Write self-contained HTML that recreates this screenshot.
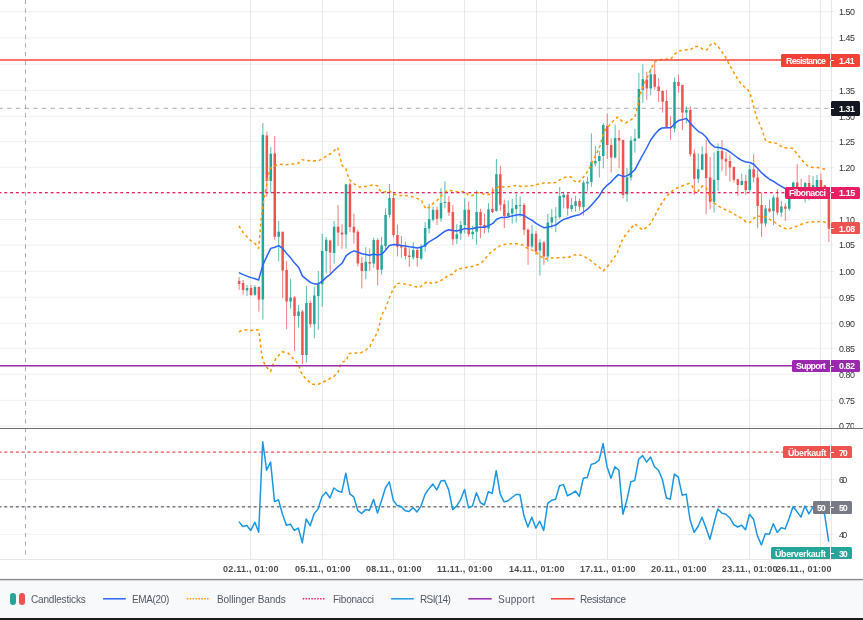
<!DOCTYPE html><html><head><meta charset="utf-8"><title>chart</title><style>
html,body{margin:0;padding:0;background:#fff}
body{width:863px;height:620px;position:relative;overflow:hidden;font-family:"Liberation Sans",sans-serif}
.t{position:absolute;white-space:nowrap;display:block;will-change:transform}
.ax{font-size:8.9px;color:#333;line-height:10px;height:10px}
.tl{font-size:9px;font-weight:bold;color:#4c4c4c;line-height:11px;height:11px}
.bx{position:absolute}
.bt{font-size:8.9px;font-weight:bold;color:#fff;line-height:12px;height:12px}
.lg{font-size:10px;color:#525a66;line-height:12px;height:12px}
</style></head><body>
<svg width="863" height="620" viewBox="0 0 863 620" style="position:absolute;left:0;top:0">
<rect width="863" height="620" fill="#fff"/>
<path d="M0 11.70H834.7M0 37.85H834.7M0 64.20H834.7M0 90.35H834.7M0 116.30H834.7M0 141.50H834.7M0 167.30H834.7M0 193.30H834.7M0 219.50H834.7M0 245.10H834.7M0 271.30H834.7M0 297.20H834.7M0 323.20H834.7M0 348.40H834.7M0 374.30H834.7M0 400.30H834.7M0 426.10H834.7M0 452.10H834.7M0 479.50H834.7M0 506.90H834.7M0 534.60H834.7" stroke="#eeeeee" stroke-width="0.9" fill="none"/>
<path d="M250.60 0V559M322.40 0V559M393.50 0V559M464.60 0V559M536.50 0V559M607.50 0V559M678.70 0V559M749.70 0V559M820.50 0V559" stroke="#e4e4e4" stroke-width="0.9" fill="none"/>
<path d="M831.45 0V559.5M0 559.5H835" stroke="#e4e4e4" stroke-width="0.9" fill="none"/>
<path d="M25.5 -0.4V556" stroke="#9598a1" stroke-width="0.8" stroke-dasharray="4.37 4.37" fill="none"/>
<path d="M-1.5 108.3H831" stroke="#9598a1" stroke-width="0.8" stroke-dasharray="4.345 4.345" fill="none"/>
<path d="M247.04 284.8V295.9M254.96 285.1V295.9M262.87 123.0V319.7M270.79 147.0V192.6M278.71 220.9V261.4M290.58 278.8V308.7M298.50 305.0V327.5M306.41 285.9V362.6M314.33 286.8V338.4M318.29 270.9V329.7M322.24 233.9V306.7M326.20 237.0V273.4M334.12 220.9V263.7M345.99 184.3V248.7M365.78 247.1V279.3M373.70 237.6V267.6M381.61 236.8V274.7M385.57 208.4V249.2M389.53 183.9V217.6M413.28 242.5V259.7M421.19 244.2V259.9M425.15 222.1V251.7M429.11 203.7V233.4M433.07 206.7V221.7M440.98 188.0V221.7M444.94 181.2V208.4M456.82 224.2V243.9M460.77 220.9V239.8M464.73 198.4V233.4M472.65 225.9V239.3M476.61 190.4V244.7M488.48 203.1V232.6M496.40 158.9V211.7M508.27 200.4V216.7M512.23 199.0V223.6M516.19 193.9V222.6M520.14 196.4V216.7M532.02 224.7V248.4M539.93 239.2V275.6M547.85 213.7V261.8M551.81 208.9V228.4M555.77 207.2V232.2M559.72 187.0V218.7M563.68 191.7V208.4M571.60 198.0V211.7M575.56 195.9V211.7M583.47 180.5V215.5M587.43 176.6V191.4M591.39 133.4V186.7M595.35 145.9V166.4M599.30 150.9V177.6M603.26 123.0V168.4M615.14 124.5V158.4M627.01 168.0V201.7M630.97 136.3V180.7M634.93 128.9V152.6M638.88 73.1V138.5M642.84 64.2V102.8M650.76 68.4V95.4M674.51 77.6V132.3M686.38 106.4V123.4M698.25 153.4V183.1M702.21 146.4V170.1M714.09 152.5V212.6M718.04 143.4V190.9M741.79 173.7V185.4M749.71 164.7V192.1M765.54 205.1V226.8M773.46 195.1V225.1M781.37 200.9V216.8M789.29 190.1V210.9M793.25 181.7V193.4M805.12 181.7V202.6M813.04 175.9V195.1M816.99 175.0V195.1" stroke="#26a69a" stroke-width="0.9" fill="none" opacity="0.85"/>
<path d="M239.13 277.1V289.8M243.08 279.8V294.8M251.00 285.1V295.9M258.92 286.4V311.7M266.83 131.7V196.8M274.75 135.9V239.7M282.66 231.7V298.2M286.62 260.9V329.2M294.54 296.1V350.9M302.45 310.0V364.3M310.37 300.5V327.5M330.16 239.7V273.4M338.08 205.1V245.9M342.03 224.2V248.7M349.95 182.1V232.0M353.91 213.7V243.7M357.87 229.7V266.4M361.82 256.7V288.4M369.74 248.4V270.9M377.66 238.1V285.4M393.49 192.5V237.6M397.45 224.7V256.4M401.40 235.9V257.6M405.36 241.4V259.6M409.32 248.4V266.7M417.24 248.4V266.7M437.03 206.4V225.1M448.90 195.9V215.9M452.86 205.1V245.1M468.69 201.4V236.8M480.56 208.7V238.1M484.52 213.7V233.4M492.44 187.5V213.1M500.35 165.8V210.9M504.31 199.7V228.1M524.10 203.0V235.1M528.06 228.4V264.8M535.98 230.9V254.8M543.89 240.9V264.8M567.64 192.5V215.5M579.51 198.4V210.5M607.22 113.7V158.9M611.18 138.4V172.6M619.09 130.1V168.4M623.05 139.8V198.6M646.80 71.7V99.7M654.72 62.5V89.7M658.67 78.1V101.8M662.63 90.1V112.6M666.59 90.1V127.5M670.55 116.4V139.7M678.46 74.7V92.6M682.42 84.7V130.2M690.34 106.4V156.7M694.30 149.2V194.8M706.17 140.0V214.3M710.13 157.0V209.3M722.00 140.0V170.9M725.96 152.0V175.9M729.92 154.9V181.7M733.88 166.4V182.6M737.83 178.7V195.9M745.75 174.7V194.7M753.67 154.2V182.6M757.62 170.0V228.1M761.58 193.1V236.8M769.50 199.7V212.6M777.41 189.2V215.1M785.33 203.4V220.9M797.20 164.2V195.1M801.16 178.7V196.7M809.08 175.0V200.4M820.95 173.4V195.1M824.91 184.7V195.1M828.87 190.1V241.8" stroke="#ef5350" stroke-width="0.9" fill="none" opacity="0.85"/>
<path d="M245.79 288.1h2.5V290.4h-2.5zM253.71 287.1h2.5V294.8h-2.5zM261.62 134.7h2.5V299.4h-2.5zM269.54 153.7h2.5V180.9h-2.5zM277.46 231.7h2.5V236.7h-2.5zM289.33 297.6h2.5V301.6h-2.5zM297.25 311.4h2.5V315.9h-2.5zM305.16 303.0h2.5V355.1h-2.5zM313.08 295.6h2.5V324.2h-2.5zM317.04 284.3h2.5V295.9h-2.5zM320.99 250.9h2.5V284.3h-2.5zM324.95 239.7h2.5V250.9h-2.5zM332.87 226.7h2.5V253.1h-2.5zM344.74 184.3h2.5V234.5h-2.5zM364.53 261.7h2.5V270.9h-2.5zM372.45 240.1h2.5V263.4h-2.5zM380.36 245.2h2.5V269.7h-2.5zM384.32 215.1h2.5V245.9h-2.5zM388.28 198.0h2.5V214.7h-2.5zM412.03 250.1h2.5V257.6h-2.5zM419.94 246.7h2.5V258.4h-2.5zM423.90 228.1h2.5V246.7h-2.5zM427.86 219.2h2.5V228.4h-2.5zM431.82 209.7h2.5V219.7h-2.5zM439.73 203.1h2.5V218.4h-2.5zM443.69 202.0h2.5V203.1h-2.5zM455.57 234.3h2.5V238.8h-2.5zM459.52 225.1h2.5V233.4h-2.5zM463.48 209.7h2.5V225.1h-2.5zM471.40 231.8h2.5V234.3h-2.5zM475.36 212.1h2.5V231.8h-2.5zM487.23 209.2h2.5V228.4h-2.5zM495.15 174.2h2.5V210.9h-2.5zM507.02 213.1h2.5V215.9h-2.5zM510.98 208.5h2.5V213.4h-2.5zM514.94 205.0h2.5V208.9h-2.5zM518.89 205.0h2.5V205.8h-2.5zM530.77 233.7h2.5V246.4h-2.5zM538.68 242.6h2.5V250.4h-2.5zM546.60 222.6h2.5V256.4h-2.5zM550.56 217.2h2.5V222.6h-2.5zM554.52 216.7h2.5V217.5h-2.5zM558.47 195.9h2.5V217.0h-2.5zM562.43 194.7h2.5V197.5h-2.5zM570.35 205.0h2.5V208.9h-2.5zM574.31 201.2h2.5V205.9h-2.5zM582.22 182.6h2.5V207.0h-2.5zM586.18 181.7h2.5V183.4h-2.5zM590.14 162.1h2.5V182.1h-2.5zM594.10 160.9h2.5V163.4h-2.5zM598.05 155.9h2.5V160.9h-2.5zM602.01 125.0h2.5V155.9h-2.5zM613.89 138.1h2.5V157.6h-2.5zM625.76 177.2h2.5V194.2h-2.5zM629.72 140.4h2.5V177.6h-2.5zM633.68 138.4h2.5V140.9h-2.5zM637.63 89.0h2.5V138.2h-2.5zM641.59 79.2h2.5V90.0h-2.5zM649.51 74.2h2.5V88.5h-2.5zM673.26 82.1h2.5V128.4h-2.5zM685.13 110.1h2.5V112.6h-2.5zM697.00 169.2h2.5V178.7h-2.5zM700.96 154.2h2.5V169.7h-2.5zM712.84 179.7h2.5V201.8h-2.5zM716.79 150.9h2.5V180.1h-2.5zM740.54 180.9h2.5V185.1h-2.5zM748.46 169.2h2.5V190.1h-2.5zM764.29 208.4h2.5V223.4h-2.5zM772.21 197.6h2.5V210.9h-2.5zM780.12 206.4h2.5V212.6h-2.5zM788.04 190.1h2.5V208.7h-2.5zM792.00 182.5h2.5V190.1h-2.5zM803.87 183.1h2.5V193.4h-2.5zM811.79 185.1h2.5V193.4h-2.5zM815.74 180.0h2.5V193.4h-2.5z" fill="#26a69a"/>
<path d="M237.88 280.9h2.5V283.9h-2.5zM241.83 282.9h2.5V290.1h-2.5zM249.75 288.1h2.5V295.1h-2.5zM257.67 287.1h2.5V299.5h-2.5zM265.58 135.4h2.5V180.9h-2.5zM273.50 153.4h2.5V236.7h-2.5zM281.41 231.7h2.5V270.4h-2.5zM285.37 270.1h2.5V301.6h-2.5zM293.29 297.6h2.5V315.9h-2.5zM301.20 311.4h2.5V355.1h-2.5zM309.12 303.0h2.5V324.2h-2.5zM328.91 240.5h2.5V252.6h-2.5zM336.83 226.7h2.5V232.5h-2.5zM340.78 232.5h2.5V234.5h-2.5zM348.70 184.3h2.5V227.0h-2.5zM352.66 226.7h2.5V232.5h-2.5zM356.62 231.7h2.5V263.4h-2.5zM360.57 263.1h2.5V270.9h-2.5zM368.49 262.1h2.5V263.4h-2.5zM376.41 240.1h2.5V269.7h-2.5zM392.24 198.0h2.5V235.1h-2.5zM396.20 235.1h2.5V246.7h-2.5zM400.15 245.9h2.5V247.6h-2.5zM404.11 247.6h2.5V255.9h-2.5zM408.07 255.4h2.5V257.1h-2.5zM415.99 250.1h2.5V258.1h-2.5zM435.78 209.7h2.5V218.7h-2.5zM447.65 202.0h2.5V212.6h-2.5zM451.61 212.1h2.5V239.3h-2.5zM467.44 209.7h2.5V234.3h-2.5zM479.31 212.1h2.5V225.1h-2.5zM483.27 225.1h2.5V227.6h-2.5zM491.19 208.7h2.5V212.1h-2.5zM499.10 174.2h2.5V204.7h-2.5zM503.06 204.2h2.5V215.9h-2.5zM522.85 205.0h2.5V229.7h-2.5zM526.81 229.7h2.5V246.8h-2.5zM534.73 233.7h2.5V251.4h-2.5zM542.64 242.6h2.5V256.4h-2.5zM566.39 194.7h2.5V208.4h-2.5zM578.26 200.9h2.5V206.7h-2.5zM605.97 125.9h2.5V145.1h-2.5zM609.93 145.1h2.5V157.6h-2.5zM617.84 138.1h2.5V140.4h-2.5zM621.80 139.9h2.5V194.9h-2.5zM645.55 79.6h2.5V88.5h-2.5zM653.47 74.2h2.5V86.7h-2.5zM657.42 86.4h2.5V90.9h-2.5zM661.38 90.9h2.5V101.8h-2.5zM665.34 100.9h2.5V127.5h-2.5zM669.30 127.0h2.5V127.8h-2.5zM677.21 82.1h2.5V85.9h-2.5zM681.17 85.1h2.5V112.6h-2.5zM689.09 110.1h2.5V154.2h-2.5zM693.05 153.4h2.5V178.7h-2.5zM704.92 153.4h2.5V178.1h-2.5zM708.88 177.6h2.5V201.8h-2.5zM720.75 150.9h2.5V159.2h-2.5zM724.71 158.7h2.5V161.4h-2.5zM728.67 160.9h2.5V167.5h-2.5zM732.63 167.0h2.5V179.7h-2.5zM736.58 179.2h2.5V185.1h-2.5zM744.50 180.9h2.5V190.1h-2.5zM752.42 169.2h2.5V177.6h-2.5zM756.37 177.6h2.5V205.9h-2.5zM760.33 205.1h2.5V223.4h-2.5zM768.25 208.4h2.5V211.4h-2.5zM776.16 197.6h2.5V212.6h-2.5zM784.08 206.4h2.5V208.7h-2.5zM795.95 182.5h2.5V193.4h-2.5zM799.91 190.1h2.5V193.4h-2.5zM807.83 183.1h2.5V193.4h-2.5zM819.70 180.0h2.5V193.4h-2.5zM823.66 185.4h2.5V193.4h-2.5zM827.62 193.1h2.5V228.4h-2.5z" fill="#ef5350"/>
<path d="M239.4 272.9L243.2 274.6L247.6 276.4L251.1 277.6L255.2 278.8L258.6 280.1L261.4 270.1L263.2 264.2L267.1 255.9L270.7 248.4L274.9 247.2L278.8 245.6L282.9 248.7L286.6 253.4L290.8 258.1L294.6 263.1L298.8 267.6L302.3 275.9L306.6 279.3L310.6 282.6L314.6 283.9L318.5 283.9L322.6 280.9L326.5 277.1L330.1 274.6L334.3 270.1L338.0 266.7L342.2 263.1L346.0 255.9L350.2 252.6L354.0 250.9L358.2 252.2L361.9 253.7L366.0 254.6L369.9 255.4L370.2 255.1L373.9 254.3L377.7 255.1L381.9 254.3L385.7 250.1L389.4 245.6L393.7 244.6L397.4 244.8L401.4 245.6L405.2 245.9L409.4 246.8L413.3 247.3L417.4 247.9L421.3 247.1L425.3 245.1L429.1 241.8L433.3 239.3L437.1 237.1L441.3 233.9L445.0 231.2L448.6 229.7L452.8 230.6L456.6 230.9L460.8 230.1L464.8 228.4L468.8 228.9L472.7 228.6L476.8 227.6L480.7 227.2L484.7 227.2L488.7 225.6L492.8 223.4L496.7 219.2L500.7 217.6L504.7 217.6L508.2 217.0L512.2 215.9L516.2 215.0L520.2 214.5L524.1 215.5L528.4 218.4L532.1 220.4L536.1 223.4L539.9 225.6L543.9 227.7L547.9 227.2L551.9 226.1L555.8 225.1L560.1 221.7L563.8 219.4L567.4 218.2L571.6 216.7L575.6 215.5L579.6 214.7L583.5 212.0L587.5 209.2L591.5 205.0L595.5 200.4L599.3 195.9L603.3 189.2L607.3 185.1L611.3 181.8L615.2 177.6L618.3 174.6L621.7 175.9L625.0 176.4L628.3 175.1L631.7 172.6L634.8 169.8L639.0 161.8L642.7 155.0L646.9 147.5L650.7 140.0L654.9 134.2L658.7 130.0L661.9 128.0L666.8 127.8L670.8 127.8L674.6 123.7L678.8 120.4L682.6 119.6L686.4 118.4L690.6 123.4L694.3 127.5L698.3 131.3L702.1 133.3L706.5 137.5L710.3 143.4L714.5 147.0L718.1 147.5L719.2 147.5L722.0 148.3L725.9 149.5L730.0 152.0L733.9 155.0L737.9 158.0L741.7 160.4L745.9 162.0L749.7 162.5L753.7 164.2L757.7 168.4L761.7 172.9L765.8 176.4L769.8 179.5L773.6 181.4L777.6 184.2L781.8 186.7L785.3 188.7L793.6 190.1L806.0 190.9L819.3 191.4L829.0 192.1" stroke="#2962ff" stroke-width="1.5" fill="none" stroke-linejoin="round" stroke-linecap="round"/>
<path d="M238.9 225.9L243.2 232.5L247.6 237.5L251.1 240.9L255.2 243.7L258.6 248.4L259.7 236.7L260.9 221.7L261.9 213.0L263.2 203.4L265.6 190.1L268.1 176.7L270.2 168.4L274.7 165.9L279.8 164.2L285.6 164.7L291.4 164.2L298.1 163.4L301.9 159.7L307.3 160.6L314.0 160.9L319.0 160.6L324.0 157.6L330.6 153.7L337.7 147.5L339.8 156.7L342.3 165.9L345.7 168.4L349.0 179.2L353.2 183.4L359.8 187.1L365.7 186.4L370.2 185.4L373.9 184.7L377.7 185.9L380.2 190.9L382.7 192.5L385.7 191.7L389.4 190.9L393.7 194.2L398.6 195.4L405.2 195.4L411.1 196.4L416.1 198.0L421.3 200.0L423.6 205.1L426.1 209.2L429.1 207.2L433.3 203.4L437.1 200.5L440.3 196.7L443.6 193.4L447.0 190.9L450.3 190.5L454.5 191.4L458.6 192.0L464.8 191.4L468.6 195.4L472.7 195.4L476.8 192.5L480.7 193.4L485.3 194.5L490.3 194.2L494.5 189.2L498.7 186.7L503.7 187.0L508.2 186.8L512.2 186.0L516.2 185.5L521.5 186.5L527.4 186.0L532.4 185.6L536.6 184.6L543.9 183.1L549.9 182.8L555.8 182.6L560.1 179.6L564.9 177.3L570.8 176.8L574.1 180.9L578.3 182.6L582.5 178.4L586.6 172.6L590.0 166.8L593.3 160.1L596.6 153.4L600.0 145.9L602.5 136.7L605.0 130.1L608.3 126.7L612.5 121.7L617.5 117.0L621.7 120.9L625.8 122.9L630.8 120.0L635.0 116.4L636.7 110.0L638.4 103.4L640.0 95.0L641.1 91.7L643.6 85.1L646.9 78.4L650.7 69.2L654.9 61.7L659.4 59.7L665.3 59.2L670.8 59.2L674.6 54.2L678.8 50.9L684.4 50.0L690.3 49.7L695.3 46.4L699.5 46.7L703.6 50.0L707.0 49.7L710.3 45.0L713.6 42.5L717.8 45.9L721.2 50.9L725.3 56.7L729.5 65.0L733.7 72.5L737.8 79.2L742.0 85.1L747.0 88.7L749.9 92.6L752.0 100.1L754.5 110.1L757.0 118.4L760.4 125.9L762.9 131.8L764.2 137.5L765.9 140.8L770.9 142.5L777.6 143.7L782.6 147.5L787.6 148.0L792.6 148.3L796.0 152.5L799.3 156.7L803.5 161.7L807.6 165.9L812.6 167.5L817.6 167.5L822.7 168.7L827.7 170.0" stroke="#ff9800" stroke-width="1.5" stroke-dasharray="2.9 2.9" fill="none" stroke-linejoin="round"/>
<path d="M238.9 331.7L244.7 329.7L251.1 330.4L258.1 329.7L259.4 335.1L260.6 345.1L261.9 355.9L263.9 362.6L266.4 367.1L270.6 371.4L273.1 364.3L275.9 358.4L279.8 354.2L282.9 351.7L288.1 353.1L292.3 357.6L296.4 361.8L298.9 365.9L300.9 371.8L304.0 376.8L308.1 380.9L312.3 384.3L318.5 384.3L323.1 382.1L328.1 379.6L334.0 376.3L338.2 371.8L340.7 364.3L342.3 362.1L346.0 360.9L349.0 353.4L354.0 352.9L360.7 352.9L365.7 350.1L369.9 346.7L371.9 341.8L375.2 336.8L377.7 331.4L379.4 325.1L380.5 319.3L381.9 314.8L385.2 309.2L386.9 304.2L389.1 298.4L391.1 293.4L393.7 288.4L396.9 283.7L401.1 283.1L405.2 284.2L410.2 285.1L414.4 286.4L419.4 287.6L423.6 284.2L426.9 281.7L432.8 283.7L437.8 281.7L443.6 279.2L448.6 275.0L452.8 274.2L456.5 269.7L461.1 268.4L467.8 267.2L473.7 266.2L478.7 264.2L483.7 260.9L487.0 256.4L491.2 252.0L496.2 248.3L500.4 245.5L505.4 244.3L508.2 244.2L513.2 243.7L518.2 243.7L523.2 245.1L527.4 248.4L532.4 250.1L536.6 252.6L540.7 256.4L544.9 259.3L549.1 257.9L555.8 257.9L562.4 257.6L569.1 257.3L574.1 255.1L578.3 254.3L584.1 256.4L589.1 259.3L594.1 263.4L599.1 267.1L603.3 270.9L606.6 267.6L610.0 263.4L614.2 257.6L617.5 252.6L620.8 243.4L623.3 238.1L627.0 233.1L630.8 228.4L634.7 223.9L638.4 226.7L642.5 230.1L646.7 227.2L650.0 224.2L655.2 215.1L659.4 206.8L662.7 201.8L666.1 196.8L670.3 192.6L674.6 189.2L678.8 187.1L684.4 185.1L689.4 183.4L692.0 185.9L694.5 191.8L697.0 193.4L699.5 188.4L702.8 185.9L706.1 187.6L708.6 193.4L711.1 199.3L714.5 203.4L718.6 205.9L719.2 206.7L724.2 209.2L730.0 211.8L735.9 215.1L741.7 218.4L745.9 221.8L749.7 222.6L753.7 218.4L757.7 215.9L761.7 216.8L765.8 216.8L769.8 219.3L773.6 221.8L777.6 224.3L781.8 227.1L785.6 228.8L789.6 228.4L793.6 227.6L797.6 225.9L801.5 224.3L805.1 222.9L809.3 222.1L813.1 221.8L817.1 221.8L821.0 221.4L825.0 222.1L827.7 223.4" stroke="#ff9800" stroke-width="1.5" stroke-dasharray="2.9 2.9" fill="none" stroke-linejoin="round"/>
<path d="M0 60.1H831" stroke="#f44336" stroke-width="1.5" fill="none"/>
<path d="M0 365.7H831" stroke="#9c27b0" stroke-width="1.5" fill="none"/>
<path d="M0 192.6H831" stroke="#e91e63" stroke-width="1.45" stroke-dasharray="2.9 2.9" stroke-dashoffset="1.5" fill="none"/>
<path d="M0 452.1H831" stroke="#ef5350" stroke-width="1.45" stroke-dasharray="2.9 2.9" stroke-dashoffset="1.5" fill="none"/>
<path d="M0 506.8H831" stroke="#787b86" stroke-width="1.45" stroke-dasharray="2.9 2.9" stroke-dashoffset="1.5" fill="none"/>
<path d="M238.9 521.6L242.9 526.5L246.8 525.6L250.8 530.4L254.8 522.3L258.7 532.1L262.7 441.7L266.6 470.2L270.6 462.1L274.5 501.5L278.5 499.9L282.5 514.2L286.4 525.3L290.4 524.2L294.3 530.4L298.3 528.1L302.3 542.7L306.2 518.9L310.2 525.8L314.1 513.8L318.1 508.9L322.0 496.4L326.0 492.2L330.0 498.0L333.9 488.0L337.9 491.0L341.8 492.2L345.8 473.2L349.8 493.8L353.7 496.8L357.7 510.3L361.6 513.5L365.6 509.6L369.5 510.3L373.5 499.2L377.5 513.1L381.4 501.0L385.4 488.0L389.3 481.8L393.3 500.3L397.2 505.6L401.2 506.6L405.2 510.7L409.1 511.4L413.1 507.7L417.0 511.9L421.0 506.1L425.0 494.5L428.9 488.7L432.9 484.1L436.8 489.9L440.8 481.1L444.7 480.6L448.7 489.9L452.7 509.6L456.6 506.1L460.6 499.6L464.5 489.4L468.5 507.7L472.4 506.1L476.4 492.7L480.4 502.6L484.3 505.0L488.3 491.7L492.2 493.4L496.2 470.7L500.2 494.1L504.1 501.9L508.1 500.8L512.0 497.5L516.0 494.5L519.9 494.5L523.9 515.4L527.9 527.0L531.8 517.2L535.8 528.1L539.7 521.2L543.7 530.4L547.7 503.3L551.6 500.3L555.6 499.2L559.5 485.7L563.5 484.6L567.4 495.7L571.4 493.8L575.4 491.0L579.3 496.4L583.3 478.3L587.2 477.6L591.2 464.4L595.1 463.2L599.1 460.2L603.1 443.5L607.0 466.7L611.0 478.3L614.9 466.7L618.9 470.2L622.9 514.2L626.8 500.3L630.8 481.8L634.7 480.6L638.7 459.3L642.6 455.6L646.6 462.1L650.6 457.0L654.5 466.7L658.5 470.2L662.4 479.5L666.4 498.0L670.3 499.2L674.3 474.1L678.3 477.1L682.2 495.2L686.2 494.1L690.1 520.0L694.1 532.3L698.1 526.5L702.0 517.2L706.0 528.1L709.9 539.3L713.9 523.5L717.8 508.9L721.8 513.1L725.8 514.2L729.7 517.7L733.7 524.7L737.6 527.0L741.6 525.3L745.5 529.8L749.5 514.3L753.5 519.2L757.4 535.9L761.4 544.9L765.3 533.8L769.3 534.2L773.3 523.8L777.2 532.4L781.2 527.8L785.1 528.9L789.1 518.5L793.0 506.7L797.0 511.6L801.0 517.1L804.9 506.0L808.9 513.9L812.8 507.4L816.8 506.4L820.8 505.6L824.7 515.0L828.7 541.7" stroke="#1a96e0" stroke-width="1.5" fill="none" stroke-linejoin="round"/>
<path d="M0 428.5H863" stroke="#6f6f6f" stroke-width="1.1" fill="none"/>
</svg>
<span class="t ax" style="left:839.0px;top:7.0px;letter-spacing:-0.46px">1.50</span>
<span class="t ax" style="left:839.0px;top:33.1px;letter-spacing:-0.46px">1.45</span>
<span class="t ax" style="left:839.0px;top:85.6px;letter-spacing:-0.46px">1.35</span>
<span class="t ax" style="left:839.0px;top:111.6px;letter-spacing:-0.46px">1.30</span>
<span class="t ax" style="left:839.0px;top:136.8px;letter-spacing:-0.46px">1.25</span>
<span class="t ax" style="left:839.0px;top:162.6px;letter-spacing:-0.46px">1.20</span>
<span class="t ax" style="left:839.0px;top:188.6px;letter-spacing:-0.46px">1.15</span>
<span class="t ax" style="left:839.0px;top:214.8px;letter-spacing:-0.46px">1.10</span>
<span class="t ax" style="left:839.0px;top:240.4px;letter-spacing:-0.46px">1.05</span>
<span class="t ax" style="left:839.0px;top:266.6px;letter-spacing:-0.46px">1.00</span>
<span class="t ax" style="left:839.0px;top:292.5px;letter-spacing:-0.46px">0.95</span>
<span class="t ax" style="left:839.0px;top:318.5px;letter-spacing:-0.46px">0.90</span>
<span class="t ax" style="left:839.0px;top:343.7px;letter-spacing:-0.46px">0.85</span>
<span class="t ax" style="left:839.0px;top:369.6px;letter-spacing:-0.46px">0.80</span>
<span class="t ax" style="left:839.0px;top:395.6px;letter-spacing:-0.46px">0.75</span>
<span class="t ax" style="left:839.0px;top:421.4px;letter-spacing:-0.46px;height:6.6px;overflow:hidden">0.70</span>
<span class="t ax" style="left:838.7px;top:474.8px;letter-spacing:-1.58px">60</span>
<span class="t ax" style="left:838.7px;top:529.9px;letter-spacing:-1.58px">40</span>
<span class="t tl" style="left:222.9px;top:564.0px;letter-spacing:0.24px">02.11., 01:00</span>
<span class="t tl" style="left:294.7px;top:564.0px;letter-spacing:0.24px">05.11., 01:00</span>
<span class="t tl" style="left:365.8px;top:564.0px;letter-spacing:0.24px">08.11., 01:00</span>
<span class="t tl" style="left:436.9px;top:564.0px;letter-spacing:0.28px">11.11., 01:00</span>
<span class="t tl" style="left:508.8px;top:564.0px;letter-spacing:0.24px">14.11., 01:00</span>
<span class="t tl" style="left:579.8px;top:564.0px;letter-spacing:0.24px">17.11., 01:00</span>
<span class="t tl" style="left:651.0px;top:564.0px;letter-spacing:0.24px">20.11., 01:00</span>
<span class="t tl" style="left:722.0px;top:564.0px;letter-spacing:0.24px">23.11., 01:00</span>
<span class="t tl" style="left:775.6px;top:564.0px;letter-spacing:0.24px">26.11., 01:00</span>
<div class="bx" style="left:781.1px;width:48.9px;top:54.2px;height:12.4px;background:#f44336;border-radius:1.5px 0 0 1.5px"></div>
<div class="bx" style="left:830.7px;width:29.1px;top:54.2px;height:12.4px;background:#f44336;border-radius:0 1.5px 1.5px 0"></div>
<div class="bx" style="left:831.2px;width:3px;top:59.9px;height:1px;background:#fff"></div>
<div class="bx" style="left:831px;width:28.8px;top:100.8px;height:14.8px;background:#131722;border-radius:1.5px"></div>
<div class="bx" style="left:831.2px;width:3px;top:107.7px;height:1px;background:#fff"></div>
<div class="bx" style="left:784.9px;width:45.1px;top:187.0px;height:11.8px;background:#e91e63;border-radius:1.5px 0 0 1.5px"></div>
<div class="bx" style="left:830.7px;width:29.1px;top:187.0px;height:11.8px;background:#e91e63;border-radius:0 1.5px 1.5px 0"></div>
<div class="bx" style="left:831.2px;width:3px;top:192.4px;height:1px;background:#fff"></div>
<div class="bx" style="left:831px;width:28.8px;top:222.2px;height:12.2px;background:#ef5350;border-radius:1.5px"></div>
<div class="bx" style="left:831.2px;width:3px;top:227.8px;height:1px;background:#fff"></div>
<div class="bx" style="left:792.1px;width:37.9px;top:359.8px;height:12.4px;background:#9c27b0;border-radius:1.5px 0 0 1.5px"></div>
<div class="bx" style="left:830.7px;width:29.1px;top:359.8px;height:12.4px;background:#9c27b0;border-radius:0 1.5px 1.5px 0"></div>
<div class="bx" style="left:831.2px;width:3px;top:365.5px;height:1px;background:#fff"></div>
<div class="bx" style="left:783.3px;width:46.7px;top:446.1px;height:12.4px;background:#ef5350;border-radius:1.5px 0 0 1.5px"></div>
<div class="bx" style="left:830.7px;width:21.2px;top:446.1px;height:12.4px;background:#ef5350;border-radius:0 1.5px 1.5px 0"></div>
<div class="bx" style="left:831.2px;width:3px;top:451.8px;height:1px;background:#fff"></div>
<div class="bx" style="left:813px;width:17.0px;top:501.2px;height:12.4px;background:#787b86;border-radius:1.5px 0 0 1.5px"></div>
<div class="bx" style="left:830.7px;width:21.2px;top:501.2px;height:12.4px;background:#787b86;border-radius:0 1.5px 1.5px 0"></div>
<div class="bx" style="left:831.2px;width:3px;top:506.9px;height:1px;background:#fff"></div>
<div class="bx" style="left:771.1px;width:58.9px;top:547.4px;height:11.8px;background:#26a69a;border-radius:1.5px 0 0 1.5px"></div>
<div class="bx" style="left:830.7px;width:21.2px;top:547.4px;height:11.8px;background:#26a69a;border-radius:0 1.5px 1.5px 0"></div>
<div class="bx" style="left:831.2px;width:3px;top:552.8px;height:1px;background:#fff"></div>
<div class="bx" style="left:0;top:580px;width:863px;height:38px;background:#f8f9fb"></div>
<div class="bx" style="left:0;top:579px;width:863px;height:1px;background:#8a8a8a"></div>
<div class="bx" style="left:0;top:580px;width:863px;height:1px;background:#d6d7da"></div>
<div class="bx" style="left:0;top:578px;width:863px;height:1px;background:#f0f0f0"></div>
<div class="bx" style="left:0;top:617.6px;width:863px;height:2.4px;background:#1c1c1c"></div>
<div class="bx" style="left:10.1px;top:593.1px;width:5.8px;height:11.5px;border-radius:2.9px;background:#26a69a"></div>
<div class="bx" style="left:19px;top:593.1px;width:5.8px;height:11.5px;border-radius:2.9px;background:#ef5350"></div>
<svg width="863" height="40" style="position:absolute;left:0;top:580px"><path d="M103.1 18.8H125.8" stroke="#2962ff" stroke-width="1.5" fill="none"/><path d="M186.8 18.8H210.2" stroke="#ff9800" stroke-width="1.5" stroke-dasharray="1.45 1.45" fill="none"/><path d="M302.7 18.8H326" stroke="#e91e63" stroke-width="1.5" stroke-dasharray="1.45 1.45" fill="none"/><path d="M391.1 18.8H413.8" stroke="#1e9be3" stroke-width="1.5" fill="none"/><path d="M468.3 18.8H491.7" stroke="#9c27b0" stroke-width="1.5" fill="none"/><path d="M551 18.8H574.4" stroke="#f44336" stroke-width="1.5" fill="none"/></svg>
<span class="t bt" style="left:785.7px;top:54.7px;letter-spacing:-0.76px">Resistance</span>
<span class="t bt" style="left:838.7px;top:54.7px;letter-spacing:-0.56px">1.41</span>
<span class="t bt" style="left:839.0px;top:102.5px;letter-spacing:-0.46px">1.31</span>
<span class="t bt" style="left:789.4px;top:187.2px;letter-spacing:-0.57px">Fibonacci</span>
<span class="t bt" style="left:839.0px;top:187.2px;letter-spacing:-0.33px">1.15</span>
<span class="t bt" style="left:839.0px;top:222.6px;letter-spacing:-0.33px">1.08</span>
<span class="t bt" style="left:796.3px;top:360.3px;letter-spacing:-0.72px">Support</span>
<span class="t bt" style="left:839.0px;top:360.3px;letter-spacing:-0.46px">0.82</span>
<span class="t bt" style="left:787.5px;top:446.6px;letter-spacing:-0.37px">Überkauft</span>
<span class="t bt" style="left:838.7px;top:446.6px;letter-spacing:-1.28px">70</span>
<span class="t bt" style="left:817.3px;top:501.7px;letter-spacing:-1.27px">50</span>
<span class="t bt" style="left:838.7px;top:501.7px;letter-spacing:-1.28px">50</span>
<span class="t bt" style="left:775.0px;top:547.6px;letter-spacing:-0.34px">Überverkauft</span>
<span class="t bt" style="left:838.7px;top:547.6px;letter-spacing:-1.28px">30</span>
<span class="t lg" style="left:30.8px;top:593.9px;letter-spacing:-0.18px">Candlesticks</span>
<span class="t lg" style="left:132.3px;top:593.9px;letter-spacing:-0.36px">EMA(20)</span>
<span class="t lg" style="left:216.7px;top:593.9px;letter-spacing:-0.09px">Bollinger Bands</span>
<span class="t lg" style="left:332.5px;top:593.9px;letter-spacing:-0.24px">Fibonacci</span>
<span class="t lg" style="left:420.3px;top:593.9px;letter-spacing:-0.61px">RSI(14)</span>
<span class="t lg" style="left:497.5px;top:593.9px;letter-spacing:0.23px">Support</span>
<span class="t lg" style="left:580.3px;top:593.9px;letter-spacing:-0.39px">Resistance</span>
</body></html>
